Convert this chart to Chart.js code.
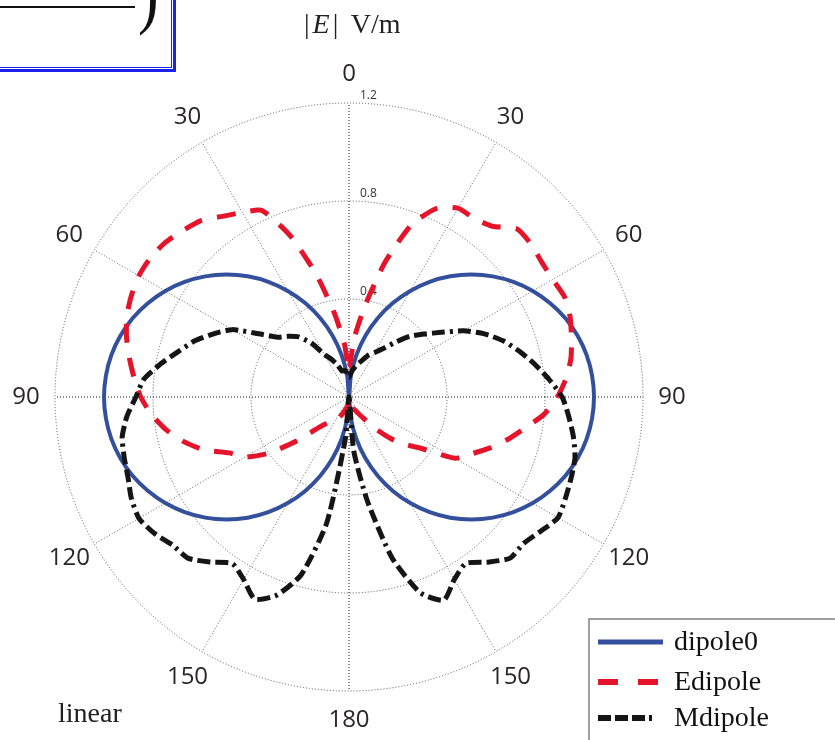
<!DOCTYPE html>
<html>
<head>
<meta charset="utf-8">
<script src="https://cdn.jsdelivr.net/npm/chart.js@4/dist/chart.umd.min.js"></script>
<style>
  html, body { margin: 0; padding: 0; background: #fff; }
  #wrap { position: relative; width: 835px; height: 740px; overflow: hidden; background: #fff; }
  #plot { position: absolute; left: 0; top: 0; }
  .eqbox {
    position: absolute; left: -20px; top: -20px; width: 196px; height: 92px;
    box-sizing: border-box; border: 3px solid #1c22ee;
    box-shadow: inset 0 0 0 1px #fff, inset 0 0 0 2px #1c22ee;
  }
  .bar { position: absolute; left: 0; top: 23px; width: 152px; height: 2px; background: #111; }
  .paren {
    position: absolute; left: 138px; top: -46px; font: 62px "Liberation Serif", serif;
    color: #111; transform: scale(1, 1.25); transform-origin: 0 0; line-height: 1;
  }
  .title {
    position: absolute; left: 304px; top: 8px; font: 28px "Liberation Serif", serif; color: #222;
    white-space: nowrap; word-spacing: 6px;
  }
  .title i { font-style: italic; margin: 0 3px; }
  .note { position: absolute; left: 58px; top: 697px; font: 28px "Liberation Serif", serif; color: #222; }
</style>
</head>
<body>
<div id="wrap">
  <canvas id="plot" width="835" height="740"></canvas>
  <div class="eqbox"><div class="bar"></div></div>
  <div class="paren">)</div>
  <div class="title">|<i>E</i>| V/m</div>
  <div class="note">linear</div>
</div>
<script>
// Direction of each sample, degrees clockwise from the top
const angles = [
  0, 5, 10, 15, 20, 25, 30, 35, 40, 45, 50, 55, 60, 65, 70, 75, 80, 85,
  90, 95, 100, 105, 110, 115, 120, 125, 130, 135, 140, 145, 150, 155, 160, 165, 170, 175,
  180, 185, 190, 195, 200, 205, 210, 215, 220, 225, 230, 235, 240, 245, 250, 255, 260, 265,
  270, 275, 280, 285, 290, 295, 300, 305, 310, 315, 320, 325, 330, 335, 340, 345, 350, 355
];

// Labels written on the 30-degree spokes (0 at the top, 180 at the bottom)
const spokeLabels = ['0', '30', '60', '90', '120', '150', '180', '150', '120', '90', '60', '30'];

// Radial rings
const radialTicks = [0.4, 0.8, 1.2];

// |E| in V/m
const dipole0 = [
  0.000, 0.087, 0.174, 0.259, 0.342, 0.423, 0.500, 0.574, 0.643, 0.707, 0.766, 0.819, 0.866, 0.906, 0.940, 0.966, 0.985, 0.996,
  1.000, 0.996, 0.985, 0.966, 0.940, 0.906, 0.866, 0.819, 0.766, 0.707, 0.643, 0.574, 0.500, 0.423, 0.342, 0.259, 0.174, 0.087,
  0.000, 0.087, 0.174, 0.259, 0.342, 0.423, 0.500, 0.574, 0.643, 0.707, 0.766, 0.819, 0.866, 0.906, 0.940, 0.966, 0.985, 0.996,
  1.000, 0.996, 0.985, 0.966, 0.940, 0.906, 0.866, 0.819, 0.766, 0.707, 0.643, 0.574, 0.500, 0.423, 0.342, 0.259, 0.174, 0.087
];

const edipole = [
  0.12, 0.24, 0.38, 0.57, 0.75, 0.85, 0.89, 0.89, 0.91, 0.97, 0.97, 0.96, 0.96, 0.97, 0.96, 0.94, 0.92, 0.89,
  0.85, 0.80, 0.73, 0.67, 0.61, 0.55, 0.50, 0.37, 0.30, 0.24, 0.17, 0.11, 0.08, 0.06, 0.05, 0.04, 0.03, 0.02,
  0.00, 0.02, 0.04, 0.05, 0.07, 0.09, 0.11, 0.12, 0.14, 0.18, 0.28, 0.40, 0.49, 0.54, 0.63, 0.70, 0.76, 0.81,
  0.85, 0.88, 0.91, 0.94, 0.965, 0.98, 0.99, 0.99, 0.98, 0.96, 0.94, 0.90, 0.87, 0.84, 0.70, 0.52, 0.35, 0.22
];

const mdipole = [
  0.08, 0.10, 0.12, 0.14, 0.16, 0.19, 0.21, 0.24, 0.29, 0.35, 0.40, 0.46, 0.54, 0.61, 0.67, 0.72, 0.77, 0.82,
  0.87, 0.90, 0.93, 0.955, 0.965, 0.975, 0.985, 0.955, 0.93, 0.93, 0.88, 0.83, 0.86, 0.915, 0.85, 0.68, 0.43, 0.22,
  0.00, 0.17, 0.52, 0.75, 0.86, 0.91, 0.86, 0.83, 0.88, 0.93, 0.94, 0.97, 0.99, 0.98, 0.96, 0.95, 0.94, 0.91,
  0.87, 0.84, 0.78, 0.72, 0.67, 0.61, 0.55, 0.45, 0.38, 0.35, 0.32, 0.27, 0.20, 0.17, 0.14, 0.11, 0.11, 0.10
];

const LABEL_FONT = '"Open Sans", "Noto Sans", sans-serif';
const SERIF = '"Liberation Serif", "Times New Roman", serif';

// Spoke labels, radial tick values and the legend box
const polarDecor = {
  id: 'polarDecor',
  beforeDatasetsDraw(chart) {
    const s = chart.scales.r;
    const ctx = chart.ctx;
    ctx.save();
    ctx.font = '12px ' + LABEL_FONT;
    ctx.fillStyle = '#333';
    ctx.textAlign = 'left';
    ctx.textBaseline = 'middle';
    radialTicks.forEach(v => {
      const d = s.getDistanceFromCenterForValue(v);
      ctx.fillText(v.toFixed(1), s.xCenter + 11, s.yCenter - d - 7);
    });
    ctx.restore();
  },
  afterDraw(chart) {
    const s = chart.scales.r;
    const ctx = chart.ctx;
    ctx.save();
    ctx.font = '24px ' + LABEL_FONT;
    ctx.fillStyle = '#2a2627';
    ctx.textAlign = 'center';
    ctx.textBaseline = 'middle';
    angles.forEach((a, i) => {
      if (a % 30 !== 0) return;
      const p = s.getPointPosition(i, s.drawingArea + 29);
      ctx.fillText(spokeLabels[a / 30], p.x, p.y);
    });

    // legend
    const bx = 589, by = 619;
    ctx.fillStyle = '#fff';
    ctx.fillRect(bx, by, 260, 140);
    ctx.strokeStyle = '#808080';
    ctx.lineWidth = 1.5;
    ctx.setLineDash([]);
    ctx.strokeRect(bx, by, 260, 140);
    const rows = [642, 682, 718];
    const legendDash = [[], [20, 20], [13, 4, 13, 4, 13, 4, 3]];
    chart.data.datasets.forEach((ds, k) => {
      const y = rows[k];
      ctx.beginPath();
      ctx.strokeStyle = ds.borderColor;
      ctx.lineWidth = ds.borderWidth + 1;
      ctx.lineCap = 'butt';
      ctx.setLineDash(legendDash[k]);
      ctx.moveTo(598, y);
      ctx.lineTo(663, y);
      ctx.stroke();
      ctx.setLineDash([]);
      ctx.fillStyle = '#111';
      ctx.font = '28px ' + SERIF;
      ctx.textAlign = 'left';
      ctx.textBaseline = 'alphabetic';
      ctx.fillText(ds.label, 674, y + 8);
    });
    ctx.restore();
  }
};

const spokeColor = ctx => {
  const a = angles[ctx.index];
  if (a % 90 === 0) return '#111';
  return a % 30 === 0 ? '#666' : 'rgba(0,0,0,0)';
};

new Chart(document.getElementById('plot'), {
  type: 'radar',
  data: {
    labels: angles,
    datasets: [
      {
        label: 'dipole0', data: dipole0, order: 3,
        borderColor: '#34509c', borderWidth: 4, fill: false, pointRadius: 0, tension: 0.25
      },
      {
        label: 'Edipole', data: edipole, order: 2,
        borderColor: '#e5142b', borderWidth: 5, borderDash: [19, 15], fill: false, pointRadius: 0, tension: 0.2
      },
      {
        label: 'Mdipole', data: mdipole, order: 1,
        borderColor: '#151515', borderWidth: 5, borderDash: [13, 5, 13, 5, 13, 5, 3, 5], fill: false, pointRadius: 0, tension: 0.2
      }
    ]
  },
  options: {
    responsive: false,
    animation: false,
    layout: { padding: { left: 55, top: 103, right: 192, bottom: 49 } },
    plugins: { legend: { display: false }, tooltip: { enabled: false } },
    elements: { line: { borderCapStyle: 'butt', borderJoinStyle: 'round' } },
    scales: {
      r: {
        min: 0,
        max: 1.2,
        ticks: { display: false, stepSize: 0.4 },
        pointLabels: { display: false },
        grid: { circular: true, color: '#555', lineWidth: 1 },
        border: { dash: [1, 2] },
        angleLines: {
          display: true,
          color: spokeColor,
          lineWidth: ctx => (angles[ctx.index] % 30 === 0 ? 1 : 0),
          borderDash: [1, 2]
        }
      }
    }
  },
  plugins: [polarDecor]
});
</script>
</body>
</html>
